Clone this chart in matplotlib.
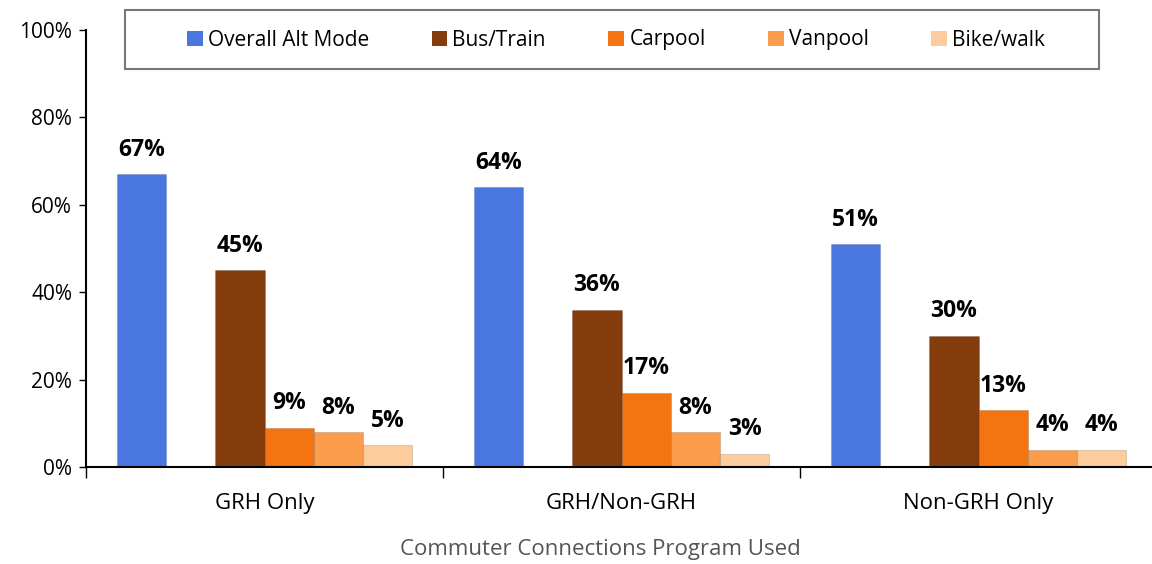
#!/usr/bin/env python3
"""Alt mode share by Commuter Connections program used."""

import numpy as np
import matplotlib.pyplot as plt
from matplotlib.patches import Patch, Rectangle

# Data
PROGRAMS = ["GRH Only", "GRH/Non-GRH", "Non-GRH Only"]
overall_alt = [67, 64, 51]
bus_train = [45, 36, 30]
carpool = [9, 17, 13]
vanpool = [8, 8, 4]
bike_walk = [5, 3, 4]

SERIES = ["Overall Alt Mode", "Bus/Train", "Carpool", "Vanpool", "Bike/walk"]
COLORS = ["#4a77df", "#843c0c", "#f47412", "#fb9d4c", "#fdcc9c"]
# slot index within each group (slot 1 is left empty)
SLOTS = [0, 2, 3, 4, 5]

plt.rcParams['font.family'] = ['Open Sans', 'DejaVu Sans']

W, H = 1152, 564
fig = plt.figure(figsize=(W / 100, H / 100), dpi=100)
ax = fig.add_axes([86 / W, 1 - 467 / H, 1071 / W, 437 / H])

values = [overall_alt, bus_train, carpool, vanpool, bike_walk]
width = 0.138
x = np.arange(len(PROGRAMS)) + 0.5

for vals, color, slot in zip(values, COLORS, SLOTS):
    pos = x + (slot - 2.5) * width
    bars = ax.bar(pos, vals, width=width, color=color,
                  edgecolor='#00000022', linewidth=0.8, zorder=2)
    for b, v in zip(bars, vals):
        ax.annotate(f"{v}%", (b.get_x() + b.get_width() / 2, v),
                    xytext=(0, 9), textcoords='offset points',
                    ha='center', va='bottom', fontsize=16.5,
                    fontweight='bold', color='black')

ax.set_xlim(0, 3)
ax.set_ylim(0, 100)
ax.set_yticks(np.arange(0, 101, 20))
ax.set_yticklabels([f"{v}%" for v in range(0, 101, 20)], fontsize=15)

ax.set_xticks([0, 1, 2, 3])
ax.set_xticklabels([])
ax.set_xticks(x, minor=True)
ax.set_xticklabels(PROGRAMS, minor=True, fontsize=16)
ax.tick_params(axis='x', which='major', direction='out', length=8, width=1)
ax.tick_params(axis='x', which='minor', length=0, pad=19)
ax.tick_params(axis='y', direction='out', length=5, width=1, pad=5)

for side in ['top', 'right']:
    ax.spines[side].set_visible(False)
for side in ['left', 'bottom']:
    ax.spines[side].set_linewidth(1.5)
    ax.spines[side].set_color('black')

fig.text(600 / W, 1 - 550 / H, "Commuter Connections Program Used",
         fontsize=16, color='#555555', ha='center', va='center')

# legend box
fig.patches.append(Rectangle((125 / W, 1 - 69 / H), 974 / W, 59 / H,
                             transform=fig.transFigure, facecolor='white',
                             edgecolor='#777777', linewidth=1.5, zorder=5))
handles = [Patch(facecolor=c, edgecolor='none') for c in COLORS]
leg = fig.legend(handles, SERIES, loc='center',
                 bbox_to_anchor=(616 / W, 1 - 40 / H), ncol=5, fontsize=15,
                 frameon=False, handlelength=0.75, handleheight=0.75,
                 handletextpad=0.25, columnspacing=3.0)
leg.set_zorder(6)

fig.savefig("out.png", dpi=100)
